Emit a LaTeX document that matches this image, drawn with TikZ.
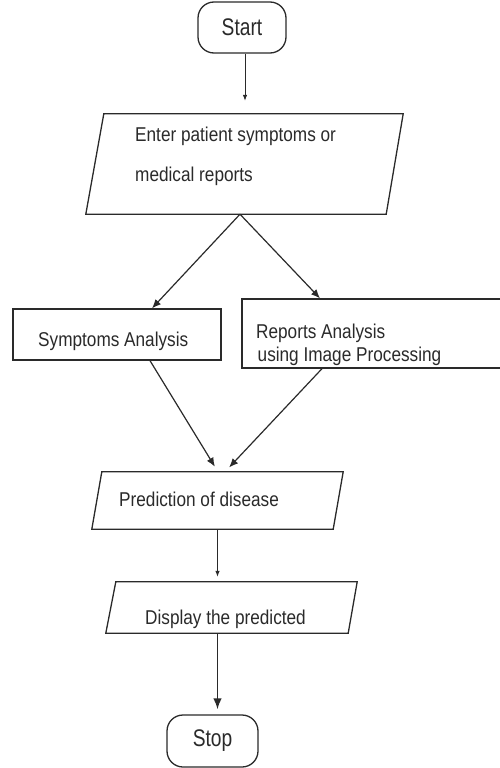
\documentclass[tikz,border=0pt]{standalone}
\usepackage{fontspec}
\setmainfont{Liberation Sans}[FakeStretch=0.86]
\newfontfamily\termfont{Liberation Sans}[FakeStretch=0.8]
\usetikzlibrary{arrows.meta}
\definecolor{ink}{HTML}{2A2A2A}
\tikzset{
  box/.style={draw=ink, line width=1.3pt, rectangle, inner sep=0pt},
  term/.style={box, rounded corners=16pt, font=\termfont\fontsize{24}{26}\selectfont, text=ink},
  io/.style={rectangle, inner sep=0pt},
  iostroke/.style={draw=ink, line width=1.3pt, line join=miter},
  lbl/.style={anchor=base west, inner sep=0pt, text=ink, font=\fontsize{20}{22}\selectfont},
  conn/.style={draw=ink, line width=1.2pt},
  thinarr/.style={draw=ink, line width=0.8pt, -{Latex[length=6pt,width=4.5pt]}},
  medarr/.style={conn, -{Latex[length=9pt,width=7.5pt]}},
  bigarr/.style={draw=ink, line width=1.6pt, -{Latex[length=11pt,width=8.5pt]}}
}
\begin{document}
\begin{tikzpicture}[x=1pt,y=-1pt]
\useasboundingbox (0,0) rectangle (500,768);
% shapes
\node[term, minimum width=88pt, minimum height=51pt] (start) at (242,27.5) {Start};
\node[io, minimum width=317pt, minimum height=100pt] (enter) at (244.5,164) {};
\draw[iostroke] ([xshift=18pt]enter.north west) -- (enter.north east) -- ([xshift=-17pt]enter.south east) -- (enter.south west) -- cycle;
\node[box, minimum width=208pt, minimum height=51pt] (symp) at (117,334.5) {};
\node[box, minimum width=261pt, minimum height=69pt] (rep) at (372.5,333.5) {};
\node[io, minimum width=251pt, minimum height=57pt] (pred) at (217.5,500.5) {};
\draw[iostroke] ([xshift=10pt]pred.north west) -- (pred.north east) -- ([xshift=-10pt]pred.south east) -- (pred.south west) -- cycle;
\node[io, minimum width=251pt, minimum height=51pt] (disp) at (231.5,607.5) {};
\draw[iostroke] ([xshift=10pt]disp.north west) -- (disp.north east) -- ([xshift=-9pt]disp.south east) -- (disp.south west) -- cycle;
\node[term, minimum width=91pt, minimum height=52pt] (stop) at (212.5,741) {Stop};
% texts
\node[lbl] (enterA) at (135,141.7) {Enter patient symptoms or};
\node[lbl] (enterB) at (135,181) {medical reports};
\node[lbl] (sympT) at (38,346.7) {Symptoms Analysis};
\node[lbl] (repA) at (256,338) {Reports Analysis};
\node[lbl] (repB) at (257.5,361.7) {using Image Processing};
\node[lbl] (predT) at (119,506.7) {Prediction of disease};
\node[lbl] (dispT) at (145,624) {Display the predicted};
% connectors
\draw[thinarr, shorten >=13pt] ([xshift=3pt]start.south) -- ([xshift=0.5pt]enter.north);
\draw[medarr] ([xshift=-4.5pt]enter.south) -- ([xshift=35pt]symp.north);
\draw[medarr] ([xshift=-4.5pt]enter.south) -- ([xshift=-52.5pt]rep.north);
\draw[medarr, shorten >=6pt] ([xshift=33pt]symp.south) -- ([xshift=0.5pt]pred.north);
\draw[medarr, shorten >=6pt] ([xshift=-50.5pt]rep.south) -- ([xshift=7.5pt]pred.north);
\draw[thinarr, shorten >=5pt] (pred.south) -- (pred.south |- disp.north);
\draw[bigarr, shorten >=5pt] (pred.south |- disp.south) -- (pred.south |- stop.north);
\end{tikzpicture}
\end{document}
